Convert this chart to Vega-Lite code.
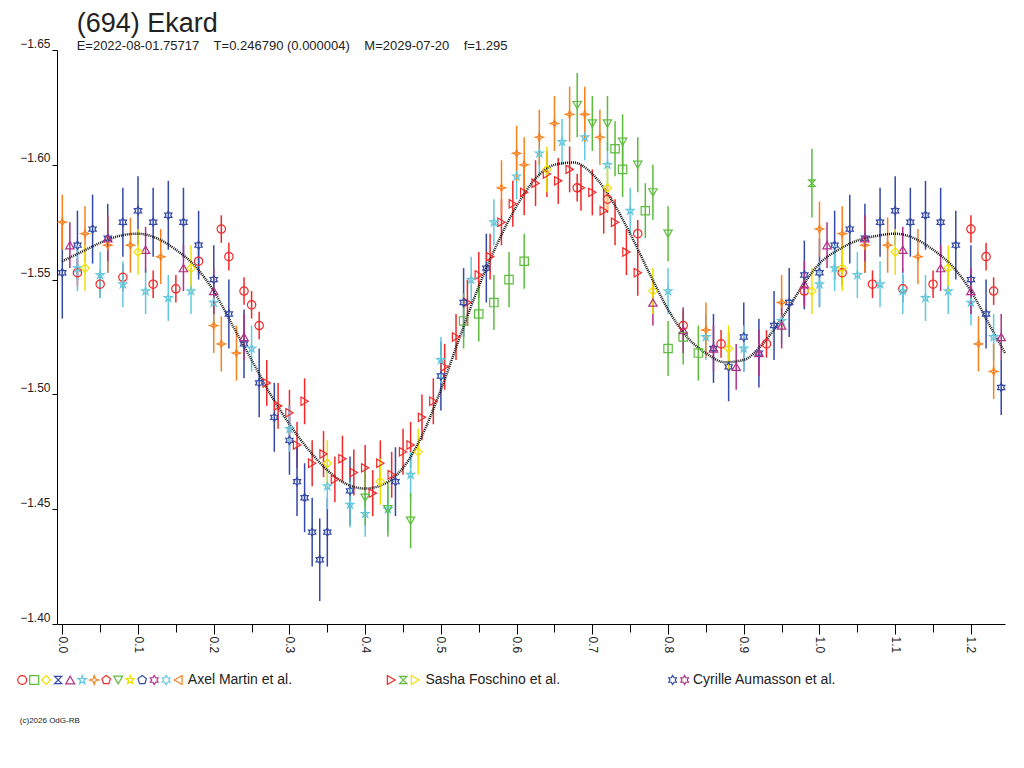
{
  "$schema": "https://vega.github.io/schema/vega-lite/v6.json",
  "background": "white",
  "padding": {"left": 15, "top": 10, "right": 5, "bottom": 5},
  "config": {
    "font": "Liberation Sans",
    "view": {"stroke": null},
    "axis": {"labelFont": "Liberation Sans", "labelFontSize": 12, "labelColor": "#222", "domainColor": "#000", "tickColor": "#000", "grid": false}
  },
  "datasets": {
    "pts": [
      {"s":"rc","x":0.02,"y":-1.553,"e":0.006},{"s":"rc","x":0.05,"y":-1.548,"e":0.006},{"s":"rc","x":0.08,"y":-1.551,"e":0.006},{"s":"rc","x":0.12,"y":-1.548,"e":0.006},{"s":"rc","x":0.15,"y":-1.546,"e":0.006},{"s":"rc","x":0.18,"y":-1.558,"e":0.006},{"s":"rc","x":0.21,"y":-1.572,"e":0.006},{"s":"rc","x":0.22,"y":-1.560,"e":0.006},{"s":"rc","x":0.24,"y":-1.545,"e":0.006},{"s":"rc","x":0.25,"y":-1.539,"e":0.006},{"s":"rc","x":0.26,"y":-1.530,"e":0.006},{"s":"rc","x":0.68,"y":-1.590,"e":0.006},{"s":"rc","x":0.72,"y":-1.585,"e":0.006},{"s":"rc","x":0.76,"y":-1.570,"e":0.006},{"s":"rc","x":0.82,"y":-1.530,"e":0.006},{"s":"rc","x":0.87,"y":-1.522,"e":0.006},{"s":"rc","x":0.93,"y":-1.522,"e":0.006},{"s":"rc","x":0.98,"y":-1.545,"e":0.006},{"s":"rc","x":1.03,"y":-1.553,"e":0.006},{"s":"rc","x":1.07,"y":-1.548,"e":0.006},{"s":"rc","x":1.11,"y":-1.546,"e":0.006},{"s":"rc","x":1.15,"y":-1.548,"e":0.006},{"s":"rc","x":1.2,"y":-1.572,"e":0.006},{"s":"rc","x":1.22,"y":-1.560,"e":0.006},{"s":"rc","x":1.23,"y":-1.545,"e":0.006},
      {"s":"rt","x":0.27,"y":-1.505,"e":0.01},{"s":"rt","x":0.285,"y":-1.495,"e":0.01},{"s":"rt","x":0.3,"y":-1.492,"e":0.01},{"s":"rt","x":0.31,"y":-1.478,"e":0.01},{"s":"rt","x":0.32,"y":-1.497,"e":0.01},{"s":"rt","x":0.33,"y":-1.470,"e":0.01},{"s":"rt","x":0.345,"y":-1.474,"e":0.01},{"s":"rt","x":0.36,"y":-1.463,"e":0.01},{"s":"rt","x":0.37,"y":-1.472,"e":0.01},{"s":"rt","x":0.385,"y":-1.466,"e":0.01},{"s":"rt","x":0.4,"y":-1.468,"e":0.01},{"s":"rt","x":0.41,"y":-1.457,"e":0.01},{"s":"rt","x":0.42,"y":-1.470,"e":0.01},{"s":"rt","x":0.435,"y":-1.465,"e":0.01},{"s":"rt","x":0.45,"y":-1.475,"e":0.01},{"s":"rt","x":0.46,"y":-1.478,"e":0.01},{"s":"rt","x":0.475,"y":-1.490,"e":0.01},{"s":"rt","x":0.49,"y":-1.497,"e":0.01},{"s":"rt","x":0.505,"y":-1.512,"e":0.01},{"s":"rt","x":0.52,"y":-1.525,"e":0.01},{"s":"rt","x":0.535,"y":-1.540,"e":0.01},{"s":"rt","x":0.55,"y":-1.552,"e":0.01},{"s":"rt","x":0.565,"y":-1.560,"e":0.01},{"s":"rt","x":0.58,"y":-1.575,"e":0.01},{"s":"rt","x":0.595,"y":-1.583,"e":0.01},{"s":"rt","x":0.61,"y":-1.588,"e":0.01},{"s":"rt","x":0.625,"y":-1.592,"e":0.01},{"s":"rt","x":0.64,"y":-1.596,"e":0.01},{"s":"rt","x":0.655,"y":-1.593,"e":0.01},{"s":"rt","x":0.67,"y":-1.598,"e":0.01},{"s":"rt","x":0.685,"y":-1.590,"e":0.01},{"s":"rt","x":0.7,"y":-1.588,"e":0.01},{"s":"rt","x":0.715,"y":-1.580,"e":0.01},{"s":"rt","x":0.73,"y":-1.575,"e":0.01},{"s":"rt","x":0.745,"y":-1.562,"e":0.01},{"s":"rt","x":0.76,"y":-1.553,"e":0.01},
      {"s":"bh","x":0.0,"y":-1.553,"e":0.02},{"s":"bh","x":0.02,"y":-1.565,"e":0.015},{"s":"bh","x":0.04,"y":-1.572,"e":0.015},{"s":"bh","x":0.06,"y":-1.568,"e":0.015},{"s":"bh","x":0.08,"y":-1.575,"e":0.015},{"s":"bh","x":0.1,"y":-1.580,"e":0.015},{"s":"bh","x":0.12,"y":-1.575,"e":0.015},{"s":"bh","x":0.14,"y":-1.578,"e":0.015},{"s":"bh","x":0.16,"y":-1.575,"e":0.015},{"s":"bh","x":0.18,"y":-1.565,"e":0.015},{"s":"bh","x":0.2,"y":-1.550,"e":0.015},{"s":"bh","x":0.22,"y":-1.535,"e":0.015},{"s":"bh","x":0.24,"y":-1.522,"e":0.015},{"s":"bh","x":0.26,"y":-1.505,"e":0.015},{"s":"bh","x":0.28,"y":-1.490,"e":0.015},{"s":"bh","x":0.3,"y":-1.480,"e":0.015},{"s":"bh","x":0.31,"y":-1.462,"e":0.015},{"s":"bh","x":0.32,"y":-1.455,"e":0.015},{"s":"bh","x":0.33,"y":-1.440,"e":0.015},{"s":"bh","x":0.34,"y":-1.428,"e":0.018},{"s":"bh","x":0.35,"y":-1.440,"e":0.015},{"s":"bh","x":0.38,"y":-1.458,"e":0.015},{"s":"bh","x":0.44,"y":-1.462,"e":0.015},{"s":"bh","x":0.5,"y":-1.508,"e":0.015},{"s":"bh","x":0.53,"y":-1.540,"e":0.015},{"s":"bh","x":0.56,"y":-1.555,"e":0.015},{"s":"bh","x":0.86,"y":-1.520,"e":0.015},{"s":"bh","x":0.88,"y":-1.512,"e":0.015},{"s":"bh","x":0.9,"y":-1.525,"e":0.015},{"s":"bh","x":0.92,"y":-1.518,"e":0.015},{"s":"bh","x":0.94,"y":-1.530,"e":0.015},{"s":"bh","x":0.96,"y":-1.540,"e":0.015},{"s":"bh","x":0.98,"y":-1.552,"e":0.015},{"s":"bh","x":1.0,"y":-1.553,"e":0.015},{"s":"bh","x":1.02,"y":-1.565,"e":0.015},{"s":"bh","x":1.04,"y":-1.572,"e":0.015},{"s":"bh","x":1.06,"y":-1.568,"e":0.015},{"s":"bh","x":1.08,"y":-1.575,"e":0.015},{"s":"bh","x":1.1,"y":-1.580,"e":0.015},{"s":"bh","x":1.12,"y":-1.575,"e":0.015},{"s":"bh","x":1.14,"y":-1.578,"e":0.015},{"s":"bh","x":1.16,"y":-1.575,"e":0.015},{"s":"bh","x":1.18,"y":-1.565,"e":0.015},{"s":"bh","x":1.2,"y":-1.550,"e":0.015},{"s":"bh","x":1.22,"y":-1.535,"e":0.015},{"s":"bh","x":1.24,"y":-1.503,"e":0.012},
      {"s":"cs","x":0.02,"y":-1.555,"e":0.01},{"s":"cs","x":0.05,"y":-1.552,"e":0.01},{"s":"cs","x":0.08,"y":-1.548,"e":0.01},{"s":"cs","x":0.11,"y":-1.545,"e":0.01},{"s":"cs","x":0.14,"y":-1.542,"e":0.01},{"s":"cs","x":0.17,"y":-1.545,"e":0.01},{"s":"cs","x":0.2,"y":-1.540,"e":0.01},{"s":"cs","x":0.25,"y":-1.520,"e":0.01},{"s":"cs","x":0.3,"y":-1.485,"e":0.01},{"s":"cs","x":0.35,"y":-1.460,"e":0.01},{"s":"cs","x":0.38,"y":-1.452,"e":0.01},{"s":"cs","x":0.4,"y":-1.448,"e":0.01},{"s":"cs","x":0.43,"y":-1.450,"e":0.01},{"s":"cs","x":0.46,"y":-1.465,"e":0.01},{"s":"cs","x":0.5,"y":-1.515,"e":0.01},{"s":"cs","x":0.54,"y":-1.550,"e":0.01},{"s":"cs","x":0.57,"y":-1.575,"e":0.01},{"s":"cs","x":0.6,"y":-1.595,"e":0.01},{"s":"cs","x":0.63,"y":-1.605,"e":0.01},{"s":"cs","x":0.66,"y":-1.610,"e":0.01},{"s":"cs","x":0.69,"y":-1.612,"e":0.01},{"s":"cs","x":0.72,"y":-1.600,"e":0.01},{"s":"cs","x":0.75,"y":-1.580,"e":0.01},{"s":"cs","x":0.8,"y":-1.545,"e":0.01},{"s":"cs","x":0.85,"y":-1.525,"e":0.01},{"s":"cs","x":0.9,"y":-1.520,"e":0.01},{"s":"cs","x":0.95,"y":-1.532,"e":0.01},{"s":"cs","x":1.0,"y":-1.548,"e":0.01},{"s":"cs","x":1.02,"y":-1.555,"e":0.01},{"s":"cs","x":1.05,"y":-1.552,"e":0.01},{"s":"cs","x":1.08,"y":-1.548,"e":0.01},{"s":"cs","x":1.11,"y":-1.545,"e":0.01},{"s":"cs","x":1.14,"y":-1.542,"e":0.01},{"s":"cs","x":1.17,"y":-1.545,"e":0.01},{"s":"cs","x":1.2,"y":-1.540,"e":0.01},{"s":"cs","x":1.23,"y":-1.525,"e":0.01},
      {"s":"oc","x":0.0,"y":-1.575,"e":0.012},{"s":"oc","x":0.03,"y":-1.570,"e":0.012},{"s":"oc","x":0.06,"y":-1.565,"e":0.012},{"s":"oc","x":0.09,"y":-1.565,"e":0.012},{"s":"oc","x":0.13,"y":-1.560,"e":0.012},{"s":"oc","x":0.2,"y":-1.530,"e":0.012},{"s":"oc","x":0.21,"y":-1.522,"e":0.012},{"s":"oc","x":0.23,"y":-1.518,"e":0.012},{"s":"oc","x":0.58,"y":-1.590,"e":0.012},{"s":"oc","x":0.6,"y":-1.605,"e":0.012},{"s":"oc","x":0.61,"y":-1.600,"e":0.012},{"s":"oc","x":0.63,"y":-1.612,"e":0.012},{"s":"oc","x":0.65,"y":-1.618,"e":0.012},{"s":"oc","x":0.67,"y":-1.622,"e":0.012},{"s":"oc","x":0.69,"y":-1.622,"e":0.012},{"s":"oc","x":0.71,"y":-1.612,"e":0.012},{"s":"oc","x":0.85,"y":-1.528,"e":0.012},{"s":"oc","x":0.95,"y":-1.540,"e":0.012},{"s":"oc","x":1.0,"y":-1.572,"e":0.012},{"s":"oc","x":1.03,"y":-1.570,"e":0.012},{"s":"oc","x":1.06,"y":-1.565,"e":0.012},{"s":"oc","x":1.09,"y":-1.565,"e":0.012},{"s":"oc","x":1.13,"y":-1.560,"e":0.012},{"s":"oc","x":1.21,"y":-1.522,"e":0.012},{"s":"oc","x":1.23,"y":-1.510,"e":0.012},
      {"s":"gt","x":0.4,"y":-1.455,"e":0.012},{"s":"gt","x":0.43,"y":-1.450,"e":0.012},{"s":"gt","x":0.46,"y":-1.445,"e":0.012},{"s":"gt","x":0.68,"y":-1.626,"e":0.014},{"s":"gt","x":0.7,"y":-1.618,"e":0.012},{"s":"gt","x":0.72,"y":-1.618,"e":0.012},{"s":"gt","x":0.74,"y":-1.610,"e":0.012},{"s":"gt","x":0.76,"y":-1.600,"e":0.012},{"s":"gt","x":0.78,"y":-1.588,"e":0.012},{"s":"gt","x":0.8,"y":-1.570,"e":0.012},
      {"s":"gs","x":0.53,"y":-1.532,"e":0.012},{"s":"gs","x":0.55,"y":-1.535,"e":0.012},{"s":"gs","x":0.57,"y":-1.540,"e":0.012},{"s":"gs","x":0.59,"y":-1.550,"e":0.012},{"s":"gs","x":0.61,"y":-1.558,"e":0.012},{"s":"gs","x":0.73,"y":-1.607,"e":0.012},{"s":"gs","x":0.74,"y":-1.598,"e":0.012},{"s":"gs","x":0.77,"y":-1.580,"e":0.012},{"s":"gs","x":0.8,"y":-1.520,"e":0.012},{"s":"gs","x":0.82,"y":-1.525,"e":0.012},{"s":"gs","x":0.84,"y":-1.518,"e":0.012},
      {"s":"pt","x":0.01,"y":-1.565,"e":0.01},{"s":"pt","x":0.06,"y":-1.568,"e":0.01},{"s":"pt","x":0.11,"y":-1.563,"e":0.01},{"s":"pt","x":0.16,"y":-1.555,"e":0.01},{"s":"pt","x":0.2,"y":-1.545,"e":0.01},{"s":"pt","x":0.24,"y":-1.525,"e":0.01},{"s":"pt","x":0.78,"y":-1.540,"e":0.01},{"s":"pt","x":0.82,"y":-1.528,"e":0.01},{"s":"pt","x":0.86,"y":-1.520,"e":0.01},{"s":"pt","x":0.89,"y":-1.512,"e":0.01},{"s":"pt","x":0.92,"y":-1.518,"e":0.01},{"s":"pt","x":0.95,"y":-1.530,"e":0.01},{"s":"pt","x":0.98,"y":-1.548,"e":0.01},{"s":"pt","x":1.01,"y":-1.565,"e":0.01},{"s":"pt","x":1.06,"y":-1.568,"e":0.01},{"s":"pt","x":1.11,"y":-1.563,"e":0.01},{"s":"pt","x":1.16,"y":-1.555,"e":0.01},{"s":"pt","x":1.2,"y":-1.545,"e":0.01},{"s":"pt","x":1.24,"y":-1.525,"e":0.01},
      {"s":"yd","x":0.03,"y":-1.555,"e":0.01},{"s":"yd","x":0.1,"y":-1.562,"e":0.01},{"s":"yd","x":0.17,"y":-1.555,"e":0.01},{"s":"yd","x":0.35,"y":-1.470,"e":0.01},{"s":"yd","x":0.42,"y":-1.462,"e":0.01},{"s":"yd","x":0.47,"y":-1.475,"e":0.01},{"s":"yd","x":0.64,"y":-1.598,"e":0.01},{"s":"yd","x":0.72,"y":-1.590,"e":0.01},{"s":"yd","x":0.78,"y":-1.545,"e":0.01},{"s":"yd","x":0.88,"y":-1.520,"e":0.01},{"s":"yd","x":0.99,"y":-1.545,"e":0.01},{"s":"yd","x":1.03,"y":-1.555,"e":0.01},{"s":"yd","x":1.1,"y":-1.562,"e":0.01},{"s":"yd","x":1.17,"y":-1.555,"e":0.01},
      {"s":"sg","x":0.99,"y":-1.592,"e":0.015}
    ],
    "fit": [
      {"x":0.0,"y":-1.558},{"x":0.025,"y":-1.562},{"x":0.05,"y":-1.566},{"x":0.075,"y":-1.569},{"x":0.1,"y":-1.570},{"x":0.125,"y":-1.568},{"x":0.15,"y":-1.563},{"x":0.175,"y":-1.556},{"x":0.2,"y":-1.545},{"x":0.225,"y":-1.530},{"x":0.25,"y":-1.515},{"x":0.275,"y":-1.500},{"x":0.3,"y":-1.487},{"x":0.325,"y":-1.476},{"x":0.35,"y":-1.467},{"x":0.375,"y":-1.461},{"x":0.4,"y":-1.459},{"x":0.425,"y":-1.461},{"x":0.45,"y":-1.468},{"x":0.475,"y":-1.482},{"x":0.5,"y":-1.502},{"x":0.525,"y":-1.525},{"x":0.55,"y":-1.547},{"x":0.575,"y":-1.566},{"x":0.6,"y":-1.582},{"x":0.625,"y":-1.594},{"x":0.65,"y":-1.600},{"x":0.675,"y":-1.601},{"x":0.7,"y":-1.596},{"x":0.725,"y":-1.585},{"x":0.75,"y":-1.570},{"x":0.775,"y":-1.553},{"x":0.8,"y":-1.537},{"x":0.825,"y":-1.525},{"x":0.85,"y":-1.518},{"x":0.875,"y":-1.514},{"x":0.9,"y":-1.515},{"x":0.925,"y":-1.522},{"x":0.95,"y":-1.533},{"x":0.975,"y":-1.546},{"x":1.0,"y":-1.557},{"x":1.025,"y":-1.563},{"x":1.05,"y":-1.567},{"x":1.075,"y":-1.569},{"x":1.1,"y":-1.570},{"x":1.125,"y":-1.568},{"x":1.15,"y":-1.563},{"x":1.175,"y":-1.556},{"x":1.2,"y":-1.545},{"x":1.225,"y":-1.530},{"x":1.245,"y":-1.518}
    ],
    "leg": [
      {"k":"rc","slot":0,"row":0},{"k":"gs","slot":1,"row":0},{"k":"yd","slot":2,"row":0},{"k":"bb","slot":3,"row":0},{"k":"pt","slot":4,"row":0},{"k":"cs","slot":5,"row":0},{"k":"oc","slot":6,"row":0},{"k":"rp","slot":7,"row":0},{"k":"gt","slot":8,"row":0},{"k":"ys","slot":9,"row":0},{"k":"bp","slot":10,"row":0},{"k":"pm","slot":11,"row":0},{"k":"ch","slot":12,"row":0},{"k":"ol","slot":13,"row":0},
      {"k":"rt","slot":30.75,"row":0},{"k":"sg","slot":31.75,"row":0},{"k":"yl","slot":32.75,"row":0},
      {"k":"bh","slot":54.2,"row":0},{"k":"ph","slot":55.2,"row":0}
    ],
    "legtext": [
      {"t":"Axel Martin et al.","slot":13.8,"row":0,"sz":"big"},
      {"t":"Sasha Foschino et al.","slot":33.6,"row":0,"sz":"big"},
      {"t":"Cyrille Aumasson et al.","slot":55.9,"row":0,"sz":"big"},
      {"t":"(c)2026 OdG-RB","slot":-0.2,"row":1,"sz":"small"}
    ]
  },
  "vconcat": [
    {
      "width": 948,
      "height": 574,
      "title": {
        "text": "(694) Ekard",
        "subtitle": "E=2022-08-01.75717\u00a0\u00a0\u00a0\u00a0T=0.246790 (0.000004)\u00a0\u00a0\u00a0\u00a0M=2029-07-20\u00a0\u00a0\u00a0\u00a0f=1.295",
        "anchor": "start",
        "dx": 57,
        "offset": -17,
        "fontSize": 27,
        "fontWeight": "normal",
        "color": "#222",
        "subtitleFontSize": 13,
        "subtitleColor": "#222",
        "subtitlePadding": 2,
        "font": "Liberation Sans",
        "subtitleFont": "Liberation Sans"
      },
      "encoding": {
        "x": {"field": "x", "type": "quantitative", "title": null,
          "scale": {"domain": [-0.007, 1.245], "nice": false, "zero": false},
          "axis": {"values": [0,0.05,0.1,0.15,0.2,0.25,0.3,0.35,0.4,0.45,0.5,0.55,0.6,0.65,0.7,0.75,0.8,0.85,0.9,0.95,1.0,1.05,1.1,1.15,1.2],
            "labelExpr": "abs(datum.value*10 - round(datum.value*10)) < 0.01 ? format(datum.value, '.1f') : ''",
            "labelAngle": 90, "labelAlign": "left", "labelBaseline": "middle", "labelPadding": 2,
            "tickSize": {"condition": {"test": "abs(datum.value*10 - round(datum.value*10)) < 0.01", "value": 10}, "value": 8},
            "labelFlush": false, "labelOverlap": false}},
        "y": {"field": "y", "type": "quantitative", "title": null,
          "scale": {"domain": [-1.65, -1.4], "nice": false, "zero": false, "reverse": true},
          "axis": {"values": [-1.65,-1.6,-1.55,-1.5,-1.45,-1.4], "format": ".2f", "tickSize": 5, "labelBaseline": "bottom", "labelPadding": 2, "labelFlush": false}}
      },
      "layer": [
        {
          "data": {"name": "pts"},
          "mark": {"type": "errorbar", "thickness": 1.5},
          "encoding": {
            "yError": {"field": "e"},
            "color": {"field": "s", "type": "nominal", "legend": null,
              "scale": {"domain": ["rc","gs","yd","bb","pt","cs","oc","rp","gt","ys","bp","pm","ch","ol","rt","sg","yl","bh","ph"],
                "range": ["#f02828","#5cbc3c","#f0e000","#3448a8","#b03088","#64c8dc","#f8801c","#f02828","#5cbc3c","#f0e000","#3448a8","#b03088","#64c8dc","#f8801c","#f02828","#5cbc3c","#f0e000","#3448a8","#b03088"]}}
          }
        },
        {
          "data": {"name": "fit"},
          "mark": {"type": "line", "color": "#111", "strokeWidth": 2.5, "strokeDash": [1, 1], "interpolate": "monotone"},
          "encoding": {}
        },
        {
          "data": {"name": "pts"},
          "mark": {"type": "point", "filled": false, "strokeWidth": 1.2, "size": 70, "opacity": 1},
          "encoding": {
            "color": {"field": "s", "type": "nominal", "legend": null,
              "scale": {"domain": ["rc","gs","yd","bb","pt","cs","oc","rp","gt","ys","bp","pm","ch","ol","rt","sg","yl","bh","ph"],
                "range": ["#f02828","#5cbc3c","#f0e000","#3448a8","#b03088","#64c8dc","#f8801c","#f02828","#5cbc3c","#f0e000","#3448a8","#b03088","#64c8dc","#f8801c","#f02828","#5cbc3c","#f0e000","#3448a8","#b03088"]}},
            "shape": {"field": "s", "type": "nominal", "legend": null,
              "scale": {"domain": ["rc","gs","yd","bb","pt","cs","oc","rp","gt","ys","bp","pm","ch","ol","rt","sg","yl","bh","ph"],
                "range": ["circle","square","diamond","M-0.8,-0.8L0.8,-0.8L-0.8,0.8L0.8,0.8Z","triangle-up","M0,-1L0.22,-0.31L0.95,-0.31L0.36,0.12L0.59,0.81L0,0.38L-0.59,0.81L-0.36,0.12L-0.95,-0.31L-0.22,-0.31Z","M0,-1L0.25,-0.25L1,0L0.25,0.25L0,1L-0.25,0.25L-1,0L-0.25,-0.25Z","M0,-1L0.95,-0.31L0.59,0.81L-0.59,0.81L-0.95,-0.31Z","triangle-down","M0,-1L0.22,-0.31L0.95,-0.31L0.36,0.12L0.59,0.81L0,0.38L-0.59,0.81L-0.36,0.12L-0.95,-0.31L-0.22,-0.31Z","M0,-1L0.95,-0.31L0.59,0.81L-0.59,0.81L-0.95,-0.31Z","M0,-1L0.29,-0.5L0.87,-0.5L0.58,0L0.87,0.5L0.29,0.5L0,1L-0.29,0.5L-0.87,0.5L-0.58,0L-0.87,-0.5L-0.29,-0.5Z","M0,-1L0.29,-0.5L0.87,-0.5L0.58,0L0.87,0.5L0.29,0.5L0,1L-0.29,0.5L-0.87,0.5L-0.58,0L-0.87,-0.5L-0.29,-0.5Z","triangle-left","triangle-right","M-0.8,-0.8L0.8,-0.8L-0.8,0.8L0.8,0.8Z","triangle-right","M0,-1L0.29,-0.5L0.87,-0.5L0.58,0L0.87,0.5L0.29,0.5L0,1L-0.29,0.5L-0.87,0.5L-0.58,0L-0.87,-0.5L-0.29,-0.5Z","M0,-1L0.29,-0.5L0.87,-0.5L0.58,0L0.87,0.5L0.29,0.5L0,1L-0.29,0.5L-0.87,0.5L-0.58,0L-0.87,-0.5L-0.29,-0.5Z"]}}
          }
        }
      ]
    },
    {
      "width": 948,
      "height": 41,
      "encoding": {
        "x": {"field": "slot", "type": "quantitative", "scale": {"domain": [2.9, 81.9], "nice": false, "zero": false}, "axis": null},
        "y": {"field": "row", "type": "quantitative", "scale": {"domain": [0, 1], "nice": false, "reverse": true}, "axis": null}
      },
      "layer": [
        {
          "data": {"name": "leg"},
          "mark": {"type": "point", "filled": false, "strokeWidth": 1.2, "size": 80, "opacity": 1},
          "encoding": {
            "color": {"field": "k", "type": "nominal", "legend": null,
              "scale": {"domain": ["rc","gs","yd","bb","pt","cs","oc","rp","gt","ys","bp","pm","ch","ol","rt","sg","yl","bh","ph"],
                "range": ["#f02828","#5cbc3c","#f0e000","#3448a8","#b03088","#64c8dc","#f8801c","#f02828","#5cbc3c","#f0e000","#3448a8","#b03088","#64c8dc","#f8801c","#f02828","#5cbc3c","#f0e000","#3448a8","#b03088"]}},
            "shape": {"field": "k", "type": "nominal", "legend": null,
              "scale": {"domain": ["rc","gs","yd","bb","pt","cs","oc","rp","gt","ys","bp","pm","ch","ol","rt","sg","yl","bh","ph"],
                "range": ["circle","square","diamond","M-0.8,-0.8L0.8,-0.8L-0.8,0.8L0.8,0.8Z","triangle-up","M0,-1L0.22,-0.31L0.95,-0.31L0.36,0.12L0.59,0.81L0,0.38L-0.59,0.81L-0.36,0.12L-0.95,-0.31L-0.22,-0.31Z","M0,-1L0.25,-0.25L1,0L0.25,0.25L0,1L-0.25,0.25L-1,0L-0.25,-0.25Z","M0,-1L0.95,-0.31L0.59,0.81L-0.59,0.81L-0.95,-0.31Z","triangle-down","M0,-1L0.22,-0.31L0.95,-0.31L0.36,0.12L0.59,0.81L0,0.38L-0.59,0.81L-0.36,0.12L-0.95,-0.31L-0.22,-0.31Z","M0,-1L0.95,-0.31L0.59,0.81L-0.59,0.81L-0.95,-0.31Z","M0,-1L0.29,-0.5L0.87,-0.5L0.58,0L0.87,0.5L0.29,0.5L0,1L-0.29,0.5L-0.87,0.5L-0.58,0L-0.87,-0.5L-0.29,-0.5Z","M0,-1L0.29,-0.5L0.87,-0.5L0.58,0L0.87,0.5L0.29,0.5L0,1L-0.29,0.5L-0.87,0.5L-0.58,0L-0.87,-0.5L-0.29,-0.5Z","triangle-left","triangle-right","M-0.8,-0.8L0.8,-0.8L-0.8,0.8L0.8,0.8Z","triangle-right","M0,-1L0.29,-0.5L0.87,-0.5L0.58,0L0.87,0.5L0.29,0.5L0,1L-0.29,0.5L-0.87,0.5L-0.58,0L-0.87,-0.5L-0.29,-0.5Z","M0,-1L0.29,-0.5L0.87,-0.5L0.58,0L0.87,0.5L0.29,0.5L0,1L-0.29,0.5L-0.87,0.5L-0.58,0L-0.87,-0.5L-0.29,-0.5Z"]}}
          }
        },
        {
          "data": {"name": "legtext"},
          "mark": {"type": "text", "align": "left", "baseline": "middle", "color": "#222", "font": "Liberation Sans"},
          "encoding": {
            "text": {"field": "t"},
            "size": {"field": "sz", "type": "nominal", "legend": null, "scale": {"domain": ["big","small"], "range": [14, 8]}}
          }
        }
      ]
    }
  ],
  "spacing": 20
}
